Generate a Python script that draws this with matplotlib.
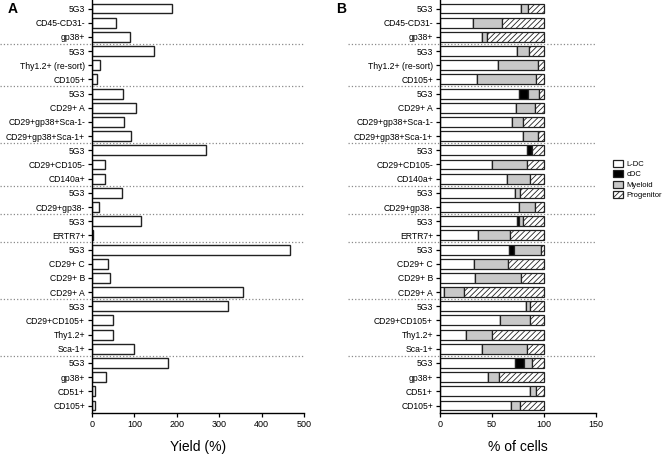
import matplotlib
matplotlib.use('Agg')
from matplotlib import pyplot as plt
import numpy as np

plt.rcParams['font.family'] = ['Liberation Sans', 'DejaVu Sans']
plt.rcParams['hatch.linewidth'] = 0.6

# sample labels, top to bottom
labels = ['5G3', 'CD45-CD31-', 'gp38+',
          '5G3', 'Thy1.2+ (re-sort)', 'CD105+',
          '5G3', 'CD29+ A', 'CD29+gp38+Sca-1-', 'CD29+gp38+Sca-1+',
          '5G3', 'CD29+CD105-', 'CD140a+',
          '5G3', 'CD29+gp38-',
          '5G3', 'ERTR7+',
          '5G3', 'CD29+ C', 'CD29+ B', 'CD29+ A',
          '5G3', 'CD29+CD105+', 'Thy1.2+', 'Sca-1+',
          '5G3', 'gp38+', 'CD51+', 'CD105+']
group_sizes = [3, 3, 4, 3, 2, 2, 4, 4, 4]

# panel A: yield (%)
yield_pct = [189, 57, 90,
             147, 18, 11,
             73, 104, 76, 91,
             268, 31, 31,
             70, 17,
             116, 2,
             466, 38, 43, 357,
             320, 50, 50, 100,
             180, 32, 8, 8]

# panel B: % of cells
ldc = [78, 32, 40,
       74, 56, 36,
       76, 73, 69, 80,
       84, 50, 64,
       72, 76,
       74, 37,
       66, 33, 34, 4,
       83, 58, 25, 40,
       72, 46, 87, 68]
cdc = [0, 0, 0,
       0, 0, 0,
       9, 0, 0, 0,
       4, 0, 0,
       0, 0,
       2, 0,
       5, 0, 0, 0,
       0, 0, 0, 0,
       9, 0, 0, 0]
myeloid = [7, 28, 5,
           12, 38, 56,
           10, 18, 11, 14,
           0, 34, 23,
           5, 15,
           4, 30,
           26, 32, 44, 19,
           4, 29, 25, 44,
           7, 11, 5, 9]
progenitor = [15, 40, 55,
              14, 6, 8,
              5, 9, 20, 6,
              12, 16, 13,
              23, 9,
              20, 33,
              3, 35, 22, 77,
              13, 13, 50, 16,
              12, 43, 8, 23]
cell_types = ['L-DC', 'cDC', 'Myeloid', 'Progenitor']

W, H = 666, 454
fig = plt.figure(figsize=(W / 100, H / 100), dpi=100)

ypos = np.arange(len(labels))
seps = np.cumsum(group_sizes)[:-1] - 0.5
bar_h = 0.7

bottom = (H - 413.3) / H
height = 413.3 / H
axA = fig.add_axes([92 / W, bottom, 212 / W, height])
axB = fig.add_axes([440 / W, bottom, 156 / W, height])


def style_axis(ax, xmax, xticks, xlabel, sep_x0):
    ax.set_ylim(len(labels) - 0.45, -0.6)
    ax.set_xlim(0, xmax)
    ax.set_yticks(ypos)
    ax.set_yticklabels(labels, fontsize=6.2)
    ax.set_xticks(xticks)
    ax.tick_params(axis='x', labelsize=6.5, length=3, width=0.9, pad=1.5)
    ax.tick_params(axis='y', length=3, width=0.9, pad=2)
    for s in ['top', 'right']:
        ax.spines[s].set_visible(False)
    for s in ['left', 'bottom']:
        ax.spines[s].set_linewidth(1.0)
    ax.set_xlabel(xlabel, fontsize=10, labelpad=8)
    tr = ax.get_yaxis_transform()
    for y in seps:
        ax.plot([sep_x0, 1.0], [y, y], transform=tr, color='#8a8a8a',
                linestyle=':', linewidth=0.9, clip_on=False, zorder=0)


# panel A
axA.barh(ypos, yield_pct, height=bar_h, color='white', edgecolor='#222222',
         linewidth=1.0)
style_axis(axA, 500, [0, 100, 200, 300, 400, 500], 'Yield (%)', -92 / 212)

# panel B
left = np.zeros(len(labels))
colors = ['white', 'black', '#c8c8c8', 'white']
hatches = [None, None, None, '//////']
handles = []
for vals, col, hat, name in zip([ldc, cdc, myeloid, progenitor], colors, hatches, cell_types):
    b = axB.barh(ypos, vals, left=left, height=bar_h, color=col,
                 edgecolor='#222222', linewidth=0.9, hatch=hat, label=name)
    handles.append(b)
    left = left + np.array(vals)
style_axis(axB, 150, [0, 50, 100, 150], '% of cells', -92 / 156)

leg = fig.legend(handles=handles, labels=cell_types, loc='upper left',
                 bbox_to_anchor=(610 / W, 1 - 157 / H), frameon=False,
                 fontsize=5.5, handlelength=1.3, handleheight=1.0,
                 handletextpad=0.45, labelspacing=0.3, borderaxespad=0)

fig.text(8 / W, 1 - 13 / H, 'A', fontsize=10, fontweight='bold')
fig.text(336 / W, 1 - 13 / H, 'B', fontsize=10, fontweight='bold')

fig.savefig('out.png', dpi=100)
